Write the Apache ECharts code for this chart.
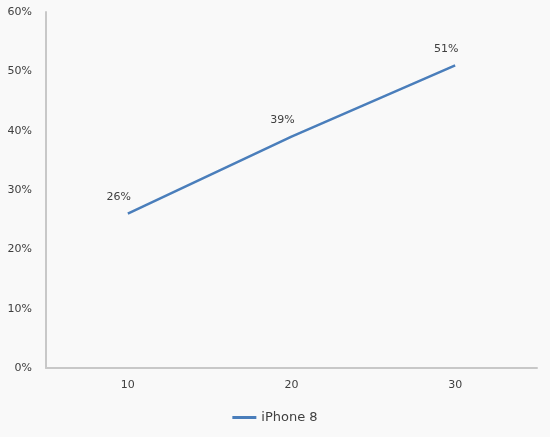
<!DOCTYPE html>
<html>
<head>
    <meta charset="utf-8" />
    <title></title>
    <style>
        html, body, #chart {
            width: 100%;
            height: 100%;
            margin: 0;
            padding: 0;
            overflow: hidden;
            background: #f9f9f9;
        }
    </style>
    <script src="https://cdn.jsdelivr.net/npm/echarts@6/dist/echarts.min.js"></script>
</head>
<body>
    <div id="chart"></div>
    <script>
        var categories = ['10', '20', '30'];
        var seriesName = 'iPhone 8';
        var values = [26, 39, 51];
        var yTicks = [0, 10, 20, 30, 40, 50, 60];

        var myChart = echarts.init(document.getElementById('chart'));
        var option = {
            backgroundColor: '#f9f9f9',
            textStyle: { fontFamily: 'DejaVu Sans' },
            grid: { left: 46, right: 13, top: 12, bottom: 69 },
            legend: {
                bottom: 8,
                left: 'center',
                icon: 'rect',
                itemWidth: 24,
                itemHeight: 3,
                itemGap: 4,
                data: [seriesName],
                textStyle: { color: '#404040', fontSize: 13 }
            },
            xAxis: {
                type: 'category',
                data: categories,
                boundaryGap: true,
                axisLine: { lineStyle: { color: '#c8c8c8', width: 2 } },
                axisTick: { show: false },
                axisLabel: { color: '#404040', fontSize: 11, margin: 12 }
            },
            yAxis: {
                type: 'value',
                min: yTicks[0],
                max: yTicks[yTicks.length - 1],
                interval: 10,
                axisLine: { show: true, lineStyle: { color: '#c8c8c8', width: 2 } },
                axisTick: { show: false },
                splitLine: { show: false },
                axisLabel: { color: '#404040', fontSize: 11, margin: 14, formatter: '{value}%' }
            },
            series: [{
                name: seriesName,
                type: 'line',
                data: values,
                symbol: 'circle',
                symbolSize: 0,
                showSymbol: true,
                lineStyle: { color: '#4a7ebb', width: 2.5 },
                itemStyle: { color: '#4a7ebb' },
                label: {
                    show: true,
                    position: 'top',
                    distance: 9,
                    offset: [-9, -2],
                    color: '#404040',
                    fontSize: 11,
                    formatter: '{c}%'
                }
            }]
        };
        myChart.setOption(option);
    </script>
</body>
</html>
